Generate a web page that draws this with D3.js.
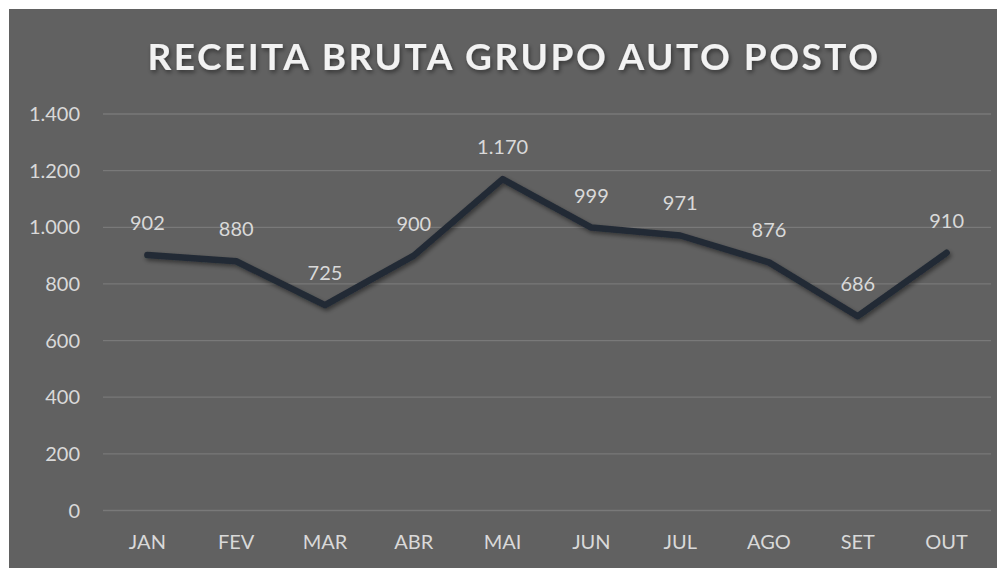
<!DOCTYPE html>
<html>
<head>
<meta charset="utf-8">
<script src="https://cdn.jsdelivr.net/npm/d3@7"></script>
<style>
  body { margin: 0; background: #fff; }
</style>
</head>
<body>
<div id="chart"></div>
<script>
const meses = ["JAN", "FEV", "MAR", "ABR", "MAI", "JUN", "JUL", "AGO", "SET", "OUT"];
const receita = [902, 880, 725, 900, 1170, 999, 971, 876, 686, 910];
const ticks = [0, 200, 400, 600, 800, 1000, 1200, 1400];

const width = 997, height = 568;
const margin = { top: 114, right: 6, bottom: 58, left: 103 };
const fmt = d3.formatLocale({ decimal: ",", thousands: ".", grouping: [3], currency: ["R$", ""] }).format(",d");

const svg = d3.select("#chart").append("svg")
  .attr("width", width)
  .attr("height", height)
  .style("font-family", "Lato, 'Open Sans', sans-serif");

// sombra do título e da linha
const defs = svg.append("defs");
defs.append("filter").attr("id", "sombra").attr("x", "-10%").attr("y", "-10%").attr("width", "120%").attr("height", "140%")
  .append("feDropShadow").attr("dx", 1.5).attr("dy", 2.5).attr("stdDeviation", 2)
  .attr("flood-color", "#000").attr("flood-opacity", 0.45);

svg.append("rect")
  .attr("x", 9).attr("y", 9)
  .attr("width", width - 9).attr("height", height - 9)
  .attr("fill", "#616161");

const x = d3.scaleBand().domain(meses).range([margin.left, width - margin.right]);
const y = d3.scaleLinear().domain([0, 1400]).range([height - margin.bottom + 0.5, margin.top]);

// grade
svg.append("g")
  .selectAll("line")
  .data(ticks)
  .join("line")
  .attr("x1", margin.left).attr("x2", width - margin.right)
  .attr("y1", d => y(d)).attr("y2", d => y(d))
  .attr("stroke", "#797979")
  .attr("stroke-width", 1.3);

// eixo y
svg.append("g")
  .selectAll("text")
  .data(ticks)
  .join("text")
  .attr("x", 80)
  .attr("y", d => y(d))
  .attr("dy", "0.35em")
  .attr("text-anchor", "end")
  .attr("fill", "#d9d9d9")
  .style("font-size", "20px")
  .text(d => fmt(d));

// eixo x
svg.append("g")
  .selectAll("text")
  .data(meses)
  .join("text")
  .attr("x", d => x(d) + x.bandwidth() / 2)
  .attr("y", 542)
  .attr("dy", "0.35em")
  .attr("text-anchor", "middle")
  .attr("fill", "#d9d9d9")
  .style("font-size", "20px")
  .text(d => d);

// linha
const line = d3.line()
  .x((d, i) => x(meses[i]) + x.bandwidth() / 2)
  .y(d => y(d));

svg.append("path")
  .datum(receita)
  .attr("d", line)
  .attr("fill", "none")
  .attr("stroke", "#222a35")
  .attr("stroke-width", 6.5)
  .attr("stroke-linejoin", "round")
  .attr("stroke-linecap", "round")
  .attr("filter", "url(#sombra)");

// rótulos de dados
svg.append("g")
  .selectAll("text")
  .data(receita)
  .join("text")
  .attr("x", (d, i) => x(meses[i]) + x.bandwidth() / 2)
  .attr("y", d => y(d) - 32)
  .attr("dy", "0.35em")
  .attr("text-anchor", "middle")
  .attr("fill", "#d9d9d9")
  .style("font-size", "20px")
  .text(d => fmt(d));

// título
svg.append("text")
  .attr("x", 514)
  .attr("y", 57)
  .attr("dy", "0.35em")
  .attr("text-anchor", "middle")
  .attr("fill", "#f2f2f2")
  .attr("filter", "url(#sombra)")
  .style("font-size", "37px")
  .style("font-weight", "bold")
  .style("letter-spacing", "2.5px")
  .text("RECEITA BRUTA GRUPO AUTO POSTO");
</script>
</body>
</html>
